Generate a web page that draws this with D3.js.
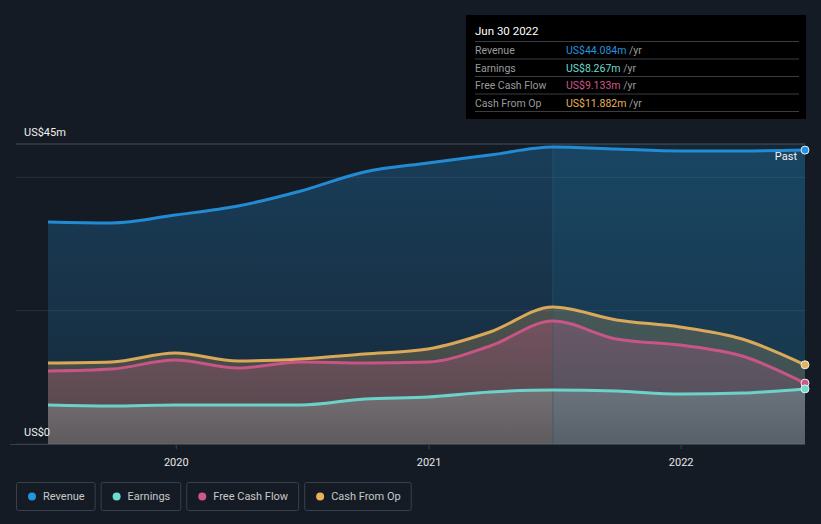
<!DOCTYPE html>
<html><head><meta charset="utf-8">
<script src="https://cdn.jsdelivr.net/npm/d3@7/dist/d3.min.js"></script>
<style>
html,body{margin:0;padding:0;background:#151b24;}
svg{display:block;font-family:Roboto,"Noto Sans",sans-serif;}
</style></head><body>
<svg id="chart" width="821" height="524"></svg>
<script>
const dates = ["2019-06-30","2019-09-30","2019-12-31","2020-03-31","2020-06-30","2020-09-30","2020-12-31","2021-03-31","2021-06-30","2021-09-30","2021-12-31","2022-03-31","2022-06-30"];
const revenue = [33.3,33.15,34.35,35.7,37.95,40.8,42.15,43.35,44.55,44.25,43.95,43.95,44.084];
const earnings = [5.85,5.7,5.85,5.85,5.85,6.75,7.05,7.8,8.1,7.95,7.5,7.65,8.267];
const fcf = [10.95,11.25,12.6,11.4,12.3,12.15,12.3,14.7,18.45,15.75,14.85,13.2,9.133];
const cfo = [12.15,12.3,13.65,12.45,12.75,13.5,14.25,16.8,20.55,18.6,17.55,15.75,11.882];
const yTicks = [0,20,40,45];
const xTicks = ["2020-01-01","2021-01-01","2022-01-01"];
const seriesNames = ["Revenue","Earnings","Free Cash Flow","Cash From Op"];
const seriesColors = ["#2394df","#6cdcd0","#d1568a","#e9b15a"];
const tooltipValues = ["US$44.084m","US$8.267m","US$9.133m","US$11.882m"];
const tooltipDate = "Jun 30 2022";

const svg = d3.select("#chart");
const parse = d3.utcParse("%Y-%m-%d");
const D = dates.map(parse);
const x = d3.scaleUtc().domain([parse("2019-06-30"), parse("2022-06-30")]).range([48,805]);
const y = d3.scaleLinear().domain([0,45]).range([444,144]);

const defs = svg.append("defs");
function grad(id, color, o1, o2){
  const g = defs.append("linearGradient").attr("id",id).attr("x1",0).attr("y1",0).attr("x2",0).attr("y2",1);
  g.append("stop").attr("offset","0%").attr("stop-color",color).attr("stop-opacity",o1);
  g.append("stop").attr("offset","100%").attr("stop-color",color).attr("stop-opacity",o2);
}
grad("gRev","#2394df",0.28,0.12);
grad("gCfo","#e9b15a",0.25,0.18);
grad("gFcf","#d1568a",0.3,0.12);
grad("gEarn","#9ab3b0",0.35,0.2);

svg.append("g").selectAll("line").data(yTicks).join("line")
  .attr("x1",16).attr("x2",805).attr("y1",d=>y(d)).attr("y2",d=>y(d))
  .attr("stroke",d=>d===45?"#4a4f58":"#2a303a").attr("stroke-width",1);

const all = [revenue, earnings, fcf, cfo];
const fills = ["url(#gRev)","url(#gEarn)","url(#gFcf)","url(#gCfo)"];
const order = [0,3,2,1];
const area = d3.area().x((d,i)=>x(D[i])).y0(y(0)).y1(d=>y(d)).curve(d3.curveMonotoneX);
const line = d3.line().x((d,i)=>x(D[i])).y(d=>y(d)).curve(d3.curveMonotoneX);

order.forEach(k=>{
  svg.append("path").attr("d",area(all[k])).attr("fill",fills[k]);
});

const hx = x(parse("2021-06-30"));
svg.append("rect").attr("x",hx).attr("y",144).attr("width",805-hx).attr("height",300)
  .attr("fill","#1f8fc8").attr("opacity",0.1);
svg.append("line").attr("x1",hx).attr("x2",hx).attr("y1",144).attr("y2",444)
  .attr("stroke","#2f5870").attr("stroke-opacity",0.6).attr("stroke-width",1);

order.forEach(k=>{
  svg.append("path").attr("d",line(all[k])).attr("fill","none").attr("stroke",seriesColors[k]).attr("stroke-width",3).attr("stroke-opacity",0.92);
});

order.forEach(k=>{
  const v = all[k][all[k].length-1];
  svg.append("circle").attr("cx",x(D[D.length-1])).attr("cy",y(v)).attr("r",4)
    .attr("fill",seriesColors[k]).attr("stroke","#e8eef2").attr("stroke-width",1);
});

svg.append("line").attr("x1",10).attr("x2",805).attr("y1",444.5).attr("y2",444.5).attr("stroke","#3a404a");
const xAxis = d3.axisBottom(x).tickValues(xTicks.map(parse)).tickFormat(d3.utcFormat("%Y")).tickSize(5).tickSizeOuter(0);
const gx = svg.append("g").attr("transform","translate(0,444)").call(xAxis);
gx.select(".domain").remove();
gx.selectAll(".tick line").attr("stroke","#3a404a");
gx.selectAll(".tick text").attr("fill","#e6e6e6").attr("font-size",11).attr("dy","1.3em").attr("font-family","Roboto,sans-serif");

svg.append("text").attr("x",24).attr("y",136).attr("fill","#f0f0f0").attr("font-size",11).text("US$45m");
svg.append("text").attr("x",24).attr("y",436).attr("fill","#f0f0f0").attr("font-size",11).text("US$0");
svg.append("text").attr("x",797).attr("y",160).attr("fill","#f0f0f0").attr("font-size",11).attr("text-anchor","end").text("Past");

const tt = svg.append("g").attr("transform","translate(466,15)");
tt.append("rect").attr("width",340).attr("height",104).attr("fill","#000000");
tt.append("text").attr("x",9).attr("y",20).attr("fill","#ffffff").attr("font-size",11.5).text(tooltipDate);
seriesNames.forEach((n,i)=>{
  const yy = 26 + i*17.5;
  tt.append("line").attr("x1",9).attr("x2",333).attr("y1",yy+0.5).attr("y2",yy+0.5).attr("stroke","#3a3d42");
  tt.append("text").attr("x",9).attr("y",yy+13).attr("fill","#9a9a9a").attr("font-size",10.5).text(n);
  const t = tt.append("text").attr("x",100).attr("y",yy+13).attr("font-size",10.5);
  t.append("tspan").attr("fill",seriesColors[i]).text(tooltipValues[i]);
  t.append("tspan").attr("fill","#9a9a9a").text(" /yr");
});
tt.append("line").attr("x1",9).attr("x2",333).attr("y1",96.5).attr("y2",96.5).attr("stroke","#3a3d42");

let lx = 16;
seriesNames.forEach((n,i)=>{
  const g = svg.append("g").attr("transform",`translate(${lx},482)`);
  const txt = g.append("text").attr("x",27).attr("y",18).attr("fill","#c8c8c8").attr("font-size",11).text(n);
  const w = txt.node().getComputedTextLength() + 37;
  g.insert("rect","text").attr("x",0.5).attr("y",0.5).attr("width",w).attr("height",28).attr("rx",2)
    .attr("fill","none").attr("stroke","#3a404a");
  g.append("circle").attr("cx",16).attr("cy",14.5).attr("r",4).attr("fill",seriesColors[i]);
  lx += w + 6;
});
</script></body></html>
